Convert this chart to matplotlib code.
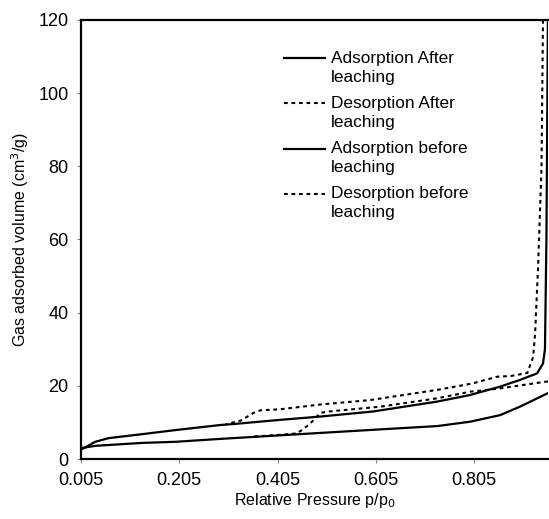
import matplotlib
matplotlib.use("Agg")
import matplotlib.pyplot as plt
import numpy as np
from matplotlib.legend_handler import HandlerLine2D

# Adsorption after leaching
ads_after_x = [0.007, 0.034, 0.061, 0.130, 0.197, 0.289, 0.319, 0.410, 0.492, 0.600, 0.730, 0.797, 0.858, 0.898, 0.933, 0.945, 0.949, 0.952, 0.955]
ads_after_y = [2.7, 4.7, 5.7, 6.8, 7.9, 9.3, 9.6, 10.7, 11.6, 13.0, 15.7, 17.5, 19.8, 21.6, 23.4, 26.1, 30.0, 60.0, 120.0]

# Desorption after leaching
des_after_x = [0.945, 0.942, 0.935, 0.929, 0.925, 0.913, 0.880, 0.852, 0.800, 0.730, 0.593, 0.492, 0.411, 0.370, 0.356, 0.330, 0.300]
des_after_y = [120.0, 79.8, 52.5, 34.4, 27.9, 23.5, 22.7, 22.5, 20.6, 18.9, 16.1, 14.9, 13.6, 13.3, 12.6, 10.5, 9.5]

# Adsorption before leaching
ads_before_x = [0.007, 0.034, 0.130, 0.197, 0.289, 0.451, 0.614, 0.730, 0.797, 0.858, 0.898, 0.955]
ads_before_y = [3.0, 3.6, 4.4, 4.7, 5.5, 6.8, 8.1, 9.0, 10.2, 12.0, 14.3, 18.0]

# Desorption before leaching
des_before_x = [0.955, 0.933, 0.858, 0.797, 0.730, 0.614, 0.510, 0.492, 0.470, 0.445, 0.400, 0.350]
des_before_y = [21.2, 20.8, 19.3, 18.4, 16.6, 14.3, 13.0, 12.6, 9.5, 7.0, 6.5, 6.1]

x_ticks = [0.005, 0.205, 0.405, 0.605, 0.805]
x_tick_labels = ["0.005", "0.205", "0.405", "0.605", "0.805"]
y_ticks = [0, 20, 40, 60, 80, 100, 120]

plt.rcParams['font.family'] = ['Liberation Sans', 'DejaVu Sans']


class UpHandler(HandlerLine2D):
    def create_artists(self, legend, orig_handle, xdescent, ydescent, width,
                       height, fontsize, trans):
        arts = super().create_artists(legend, orig_handle, xdescent, ydescent,
                                      width, height, fontsize, trans)
        for a in arts:
            a.set_ydata(np.asarray(a.get_ydata()) + 6.8)
        return arts


fig = plt.figure(figsize=(5.49, 5.19), dpi=100)
ax = fig.add_axes([0.1475, 0.1156, 0.8505, 0.8459])

dot = (0, (1.8, 1.8))
l1, = ax.plot(ads_after_x, ads_after_y, color='black', lw=1.6, ls='-', label='Adsorption After\nleaching')
l2, = ax.plot(des_after_x, des_after_y, color='black', lw=1.5, ls=dot, label='Desorption After\nleaching')
l3, = ax.plot(ads_before_x, ads_before_y, color='black', lw=1.6, ls='-', label='Adsorption before\nleaching')
l4, = ax.plot(des_before_x, des_before_y, color='black', lw=1.5, ls=dot, label='Desorption before\nleaching')

ax.set_xlim(0.005, 0.955)
ax.set_ylim(0, 120)
ax.set_xticks(x_ticks)
ax.set_xticklabels(x_tick_labels)
ax.set_yticks(y_ticks)
ax.tick_params(axis='both', labelsize=13, length=3, width=0.8, direction='out', color='#888888')
ax.tick_params(axis='x', pad=6)
ax.tick_params(axis='y', pad=6)

for s in ['left', 'bottom', 'top']:
    ax.spines[s].set_linewidth(1.6)
ax.spines['right'].set_visible(False)

ax.set_xlabel('Relative Pressure p/p$_0$', fontsize=11.5, labelpad=2)
ax.set_ylabel('Gas adsorbed volume (cm$^3$/g)', fontsize=11.5, labelpad=5)

hm = {h: UpHandler() for h in (l1, l2, l3, l4)}
leg = ax.legend(loc='upper left', bbox_to_anchor=(0.435, 0.930), frameon=False,
                fontsize=12.4, handlelength=2.4, handletextpad=0.3, labelspacing=0.66,
                borderpad=0, borderaxespad=0, handler_map=hm)
for t in leg.get_texts():
    t.set_linespacing(1.32)

fig.savefig('out.png', dpi=100)
